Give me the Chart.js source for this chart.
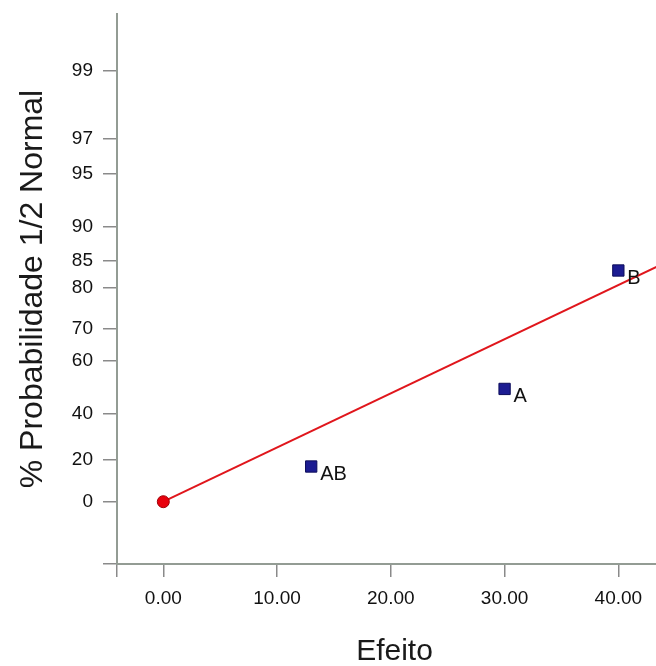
<!DOCTYPE html>
<html>
<head>
<meta charset="utf-8">
<style>
  html, body { margin: 0; padding: 0; background: #fff; }
  #wrap { width: 656px; height: 666px; }
</style>
<script src="https://cdn.jsdelivr.net/npm/chart.js@4/dist/chart.umd.min.js"></script>
</head>
<body>
<div id="wrap"><canvas id="c" width="656" height="666"></canvas></div>
<script>
// Effects and their half-normal probabilities
const effectLabels = ['AB', 'A', 'B'];
const effects = [13, 30, 40];
const halfNormalPct = [16.67, 50, 83.33];

// Reference line through the origin
const fitEffects = [0, 45];
const fitPct = [0, 85.5];

// Axis ticks
const yTickPct = [0, 20, 40, 60, 70, 80, 85, 90, 95, 97, 99];
const xTicks = [0, 10, 20, 30, 40];

// Inverse standard normal CDF (Acklam's rational approximation)
function invNorm(p) {
  const a = [-3.969683028665376e+01, 2.209460984245205e+02, -2.759285104469687e+02, 1.383577518672690e+02, -3.066479806614716e+01, 2.506628277459239e+00];
  const b = [-5.447609879822406e+01, 1.615858368580409e+02, -1.556989798598866e+02, 6.680131188771972e+01, -1.328068155288572e+01];
  const c = [-7.784894002430293e-03, -3.223964580411365e-01, -2.400758277161838e+00, -2.549732539343734e+00, 4.374664141464968e+00, 2.938163982698783e+00];
  const d = [7.784695709041462e-03, 3.224671290700398e-01, 2.445134137142996e+00, 3.754408661907416e+00];
  const plow = 0.02425, phigh = 1 - plow;
  let q, r;
  if (p < plow) {
    q = Math.sqrt(-2 * Math.log(p));
    return (((((c[0]*q+c[1])*q+c[2])*q+c[3])*q+c[4])*q+c[5]) / ((((d[0]*q+d[1])*q+d[2])*q+d[3])*q+1);
  }
  if (p <= phigh) {
    q = p - 0.5; r = q * q;
    return (((((a[0]*r+a[1])*r+a[2])*r+a[3])*r+a[4])*r+a[5])*q / (((((b[0]*r+b[1])*r+b[2])*r+b[3])*r+b[4])*r+1);
  }
  q = Math.sqrt(-2 * Math.log(1 - p));
  return -(((((c[0]*q+c[1])*q+c[2])*q+c[3])*q+c[4])*q+c[5]) / ((((d[0]*q+d[1])*q+d[2])*q+d[3])*q+1);
}
// % half-normal probability -> normal score
const toZ = pct => invNorm(0.5 + pct / 200);

const X_MIN = -4.07, X_MAX = 43.31;
const Y_MIN = -0.3726, Y_MAX = 2.917;

const FONT = '"Liberation Sans", Arial, Helvetica, sans-serif';
const AXIS_GREY = '#939c94';
const X_TITLE = 'Efeito';

const effectPoints = effects.map((x, i) => ({ x: x, y: toZ(halfNormalPct[i]) }));
const fitPoints = fitEffects.map((x, i) => ({ x: x, y: toZ(fitPct[i]) }));

// Writes each effect's name beside its marker, and the horizontal axis title
const annotations = {
  id: 'annotations',
  afterDatasetsDraw(chart) {
    const meta = chart.getDatasetMeta(1);
    const ctx = chart.ctx;
    ctx.save();
    ctx.font = '20px ' + FONT;
    ctx.fillStyle = '#111';
    ctx.textAlign = 'left';
    ctx.textBaseline = 'middle';
    meta.data.forEach((el, i) => {
      ctx.fillText(effectLabels[i], el.x + 9, el.y + 8);
    });
    const area = chart.chartArea;
    ctx.font = '30px ' + FONT;
    ctx.fillStyle = '#1a1a1a';
    ctx.textAlign = 'center';
    ctx.fillText(X_TITLE, (area.left + area.right) / 2 + 8, chart.height - 14);
    ctx.restore();
  }
};

new Chart(document.getElementById('c'), {
  type: 'scatter',
  data: {
    datasets: [
      {
        type: 'line',
        data: fitPoints,
        borderColor: '#e0161c',
        borderWidth: 2,
        pointRadius: [6, 0],
        pointBackgroundColor: '#e8000c',
        pointBorderColor: '#a00008',
        pointBorderWidth: 1,
        fill: false,
        tension: 0,
        order: 2
      },
      {
        data: effectPoints,
        pointStyle: 'rect',
        pointRadius: 8,
        pointBackgroundColor: '#1c1c92',
        pointBorderColor: '#0c0c5a',
        pointBorderWidth: 1,
        order: 1
      }
    ]
  },
  options: {
    responsive: false,
    animation: false,
    events: [],
    layout: { autoPadding: false, padding: { top: 14, right: 0, bottom: 0, left: 0 } },
    plugins: { legend: { display: false }, tooltip: { enabled: false } },
    scales: {
      x: {
        type: 'linear',
        min: X_MIN,
        max: X_MAX,
        afterBuildTicks(scale) {
          scale.ticks = [{ value: X_MIN }].concat(xTicks.map(v => ({ value: v })));
        },
        afterFit(scale) {
          scale.height = 102;
          scale.paddingLeft = 0;
          scale.paddingRight = 0;
        },
        ticks: {
          autoSkip: false,
          maxRotation: 0,
          padding: 10,
          color: '#111',
          font: { family: FONT, size: 19 },
          callback: (v, i) => i === 0 ? '' : xTicks[i - 1].toFixed(2)
        },
        grid: { display: true, drawOnChartArea: false, drawTicks: true, tickLength: 13, color: '#8a8a8a', lineWidth: 1.5 },
        border: { display: true, color: AXIS_GREY, width: 2 },
        title: { display: false }
      },
      y: {
        type: 'linear',
        min: Y_MIN,
        max: Y_MAX,
        afterBuildTicks(scale) {
          scale.ticks = [{ value: Y_MIN }].concat(yTickPct.map(p => ({ value: toZ(p) })));
        },
        afterFit(scale) {
          scale.width = 117;
          scale.paddingTop = 0;
          scale.paddingBottom = 0;
        },
        ticks: {
          autoSkip: false,
          padding: 10,
          color: '#111',
          font: { family: FONT, size: 19 },
          callback: (v, i) => i === 0 ? '' : String(yTickPct[i - 1])
        },
        grid: { display: true, drawOnChartArea: false, drawTicks: true, tickLength: 14, color: '#8a8a8a', lineWidth: 1.5 },
        border: { display: true, color: AXIS_GREY, width: 2 },
        title: {
          display: true,
          text: '% Probabilidade 1/2 Normal',
          color: '#1a1a1a',
          font: { family: FONT, size: 32, lineHeight: 1 },
          padding: { top: 17, bottom: 0 }
        }
      }
    }
  },
  plugins: [annotations]
});
</script>
</body>
</html>
